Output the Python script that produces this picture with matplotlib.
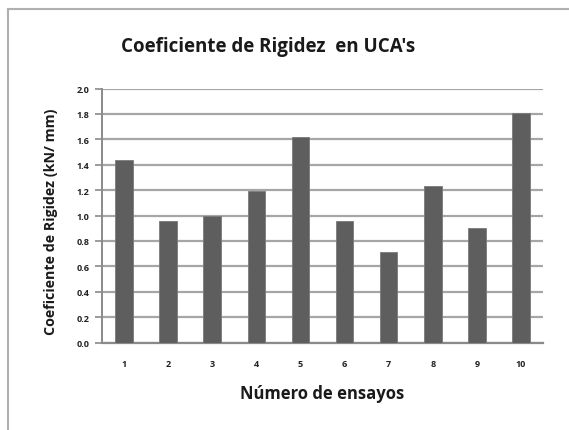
import matplotlib.pyplot as plt
from matplotlib.lines import Line2D

# datos
ensayos = ['1', '2', '3', '4', '5', '6', '7', '8', '9', '10']
rigidez = [1.44, 0.96, 1.00, 1.19, 1.62, 0.96, 0.71, 1.23, 0.90, 1.81]
yticks = [0.0, 0.2, 0.4, 0.6, 0.8, 1.0, 1.2, 1.4, 1.6, 1.8, 2.0]

plt.rcParams['font.family'] = ['Open Sans', 'DejaVu Sans']

fig = plt.figure(figsize=(5.69, 4.31), dpi=100)
fig.patch.set_facecolor('white')

# marco gris del grafico (solo borde superior e izquierdo visibles)
bx, by = 8 / 569, 1 - 10 / 431
fig.add_artist(Line2D([bx, 1.1], [by, by], transform=fig.transFigure,
                      color='#b0b0b0', linewidth=1.5))
fig.add_artist(Line2D([bx, bx], [-0.1, by], transform=fig.transFigure,
                      color='#b0b0b0', linewidth=1.5))

ax = fig.add_axes([102 / 569, 1 - 343.5 / 431, 441 / 569, 254 / 431])
x = list(range(len(ensayos)))
ax.bar(x, rigidez, width=0.4, color='#5e5e5e', edgecolor='#7a7a7a',
       linewidth=0.6, zorder=3)

ax.set_xlim(-0.5, len(ensayos) - 0.5)
ax.set_ylim(0, 2.0)
ax.set_yticks(yticks)
ax.set_yticklabels([f'{v:.1f}' for v in yticks], fontsize=6.5,
                   fontweight='bold', color='#222222')
ax.set_xticks(x)
ax.set_xticklabels(ensayos, fontsize=6.5, fontweight='bold', color='#222222')
ax.tick_params(axis='x', length=0, pad=12)
ax.tick_params(axis='y', length=5, width=1.2, color='#8a8a8a', pad=4)

ax.grid(axis='y', color='#a6a6a6', linewidth=1.6, zorder=0)
for s in ['top', 'right']:
    ax.spines[s].set_visible(False)
ax.spines['left'].set_color('#8a8a8a')
ax.spines['left'].set_linewidth(1.4)
ax.spines['bottom'].set_color('#8a8a8a')
ax.spines['bottom'].set_linewidth(1.6)

ax.set_xlabel('Número de ensayos', fontsize=12, fontweight='bold',
              color='#1a1a1a')
ax.xaxis.set_label_coords(0.499, -0.165)
ax.set_ylabel('Coeficiente de Rigidez (kN/ mm)', fontsize=10.3,
              fontweight='bold', color='#1a1a1a')
ax.yaxis.set_label_coords(-0.10, 0.48)

fig.text(268 / 569, 1 - 47 / 431, "Coeficiente de Rigidez  en UCA's",
         ha='center', va='center', fontsize=13.5, fontweight='bold',
         color='#1a1a1a')

fig.savefig('out.png', dpi=100)
